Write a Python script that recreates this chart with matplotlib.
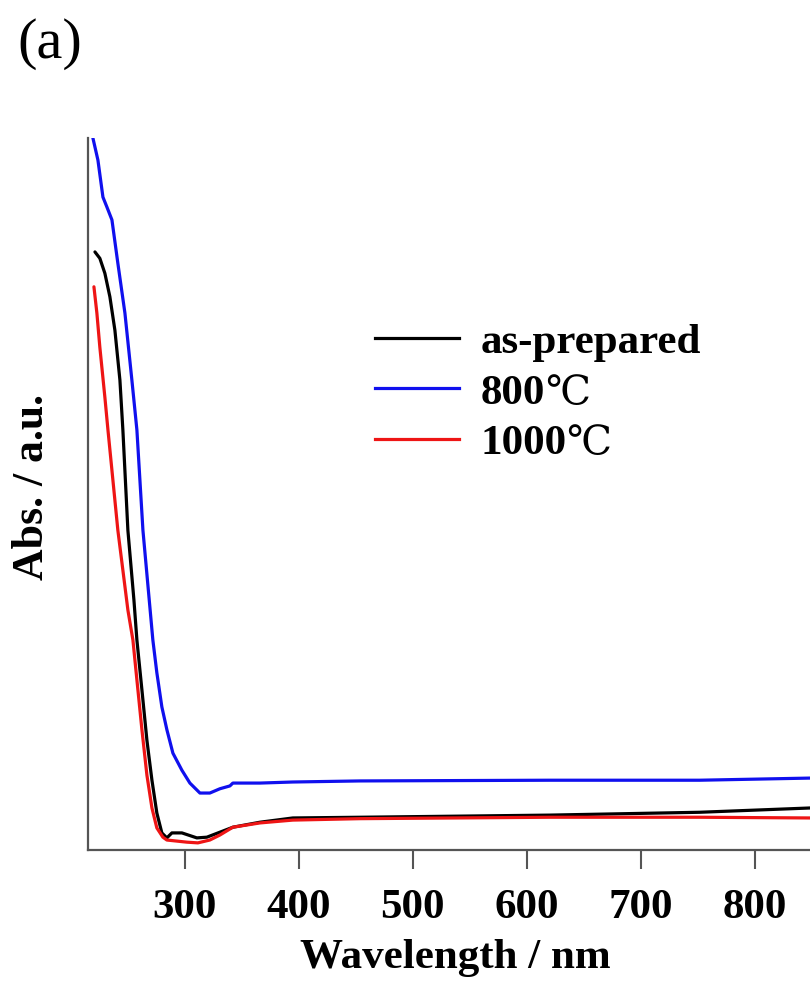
import matplotlib
matplotlib.use("Agg")
import matplotlib.pyplot as plt
from matplotlib.lines import Line2D

# UV-vis absorbance spectra (arbitrary units)
wl_asprep = [221.1, 225.4, 229.8, 234.2, 238.6, 243.0, 245.6, 250.0, 255.3, 257.9,
             262.3, 266.7, 271.1, 275.4, 279.8, 284.2, 288.6, 297.4, 310.5, 319.3,
             330.7, 342.1, 365.8, 394.7, 453.5, 620.1, 751.7, 848.2, 870.0]
abs_asprep = [0.840, 0.831, 0.810, 0.777, 0.730, 0.660, 0.590, 0.449, 0.351, 0.295,
              0.225, 0.154, 0.098, 0.052, 0.024, 0.017, 0.024, 0.024, 0.017, 0.018,
              0.025, 0.032, 0.039, 0.045, 0.046, 0.049, 0.053, 0.059, 0.060]

wl_800 = [219.3, 223.7, 228.1, 231.6, 236.0, 241.2, 247.4, 253.5, 257.9, 263.2,
          271.9, 275.4, 279.8, 284.2, 289.5, 297.4, 304.4, 313.2, 321.9, 330.7,
          339.5, 342.1, 365.8, 394.7, 453.5, 620.1, 751.7, 848.2, 870.0]
abs_800 = [1.000, 0.969, 0.917, 0.903, 0.885, 0.824, 0.754, 0.660, 0.590, 0.449,
           0.295, 0.249, 0.201, 0.169, 0.136, 0.112, 0.094, 0.080, 0.080, 0.086,
           0.090, 0.094, 0.094, 0.0955, 0.097, 0.098, 0.098, 0.101, 0.101]

wl_1000 = [220.2, 222.8, 225.4, 229.8, 232.5, 241.2, 250.0, 254.4, 257.9, 262.3,
           266.7, 271.1, 275.4, 280.7, 284.2, 301.8, 311.4, 321.9, 330.7, 342.1,
           365.8, 394.7, 453.5, 620.1, 751.7, 848.2, 870.0]
abs_1000 = [0.791, 0.754, 0.706, 0.636, 0.590, 0.449, 0.337, 0.295, 0.239, 0.169,
            0.105, 0.059, 0.031, 0.018, 0.014, 0.011, 0.010, 0.014, 0.021, 0.032,
            0.038, 0.042, 0.044, 0.046, 0.046, 0.045, 0.045]

series_labels = ["as-prepared", "800", "1000"]
series_suffix = ["", "\u2103", "\u2103"]
series_colors = ["black", "#1010ee", "#ee1515"]

xticks = [300, 400, 500, 600, 700, 800]

W, H = 810, 988
fig = plt.figure(figsize=(W / 100, H / 100), dpi=100)
ax = fig.add_axes([88 / W, (H - 850) / H, (822 - 88) / W, (850 - 138) / H])

serif = ["Liberation Serif", "DejaVu Serif"]
lw = 2.3
line_kw = dict(lw=lw, solid_joinstyle="round", solid_capstyle="round")
ax.plot(wl_asprep, abs_asprep, color=series_colors[0], **line_kw)
ax.plot(wl_800, abs_800, color=series_colors[1], **line_kw)
ax.plot(wl_1000, abs_1000, color=series_colors[2], **line_kw)

ax.set_xlim(215, 859)
ax.set_ylim(0, 1.0)

for s in ["top", "right"]:
    ax.spines[s].set_visible(False)
for s in ["left", "bottom"]:
    ax.spines[s].set_color("#555555")
    ax.spines[s].set_linewidth(1.6)

ax.set_yticks([])
ax.set_xticks(xticks)
ax.tick_params(axis="x", direction="out", length=14, width=1.5, color="#555555",
               pad=14)
for lab in ax.get_xticklabels():
    lab.set_fontfamily(serif)
    lab.set_fontweight("bold")
    lab.set_fontsize(31)

ax.set_xlabel("Wavelength / nm", fontfamily=serif, fontweight="bold", fontsize=31)
ax.xaxis.set_label_coords(0.5, -0.125)
ax.set_ylabel("Abs. / a.u.", fontfamily=serif, fontweight="bold", fontsize=31.5)
ax.yaxis.set_label_coords(-0.049, 0.51)

fig.text(17 / W, 1 - 44 / H, "(a)", fontfamily=serif, fontsize=42,
         ha="left", va="center")

handles = [Line2D([], [], color=c, lw=lw) for c in series_colors]
leg = ax.legend(handles, series_labels, loc="center left",
                bbox_to_anchor=(375 / W, 1 - 393 / H), bbox_transform=fig.transFigure,
                frameon=False, borderpad=0, borderaxespad=0, handlelength=1.95,
                handletextpad=0.5, labelspacing=0.26,
                prop={"family": serif, "weight": "bold", "size": 31})

fig.canvas.draw()
renderer = fig.canvas.get_renderer()
for txt, suffix in zip(leg.get_texts(), series_suffix):
    if not suffix:
        continue
    bb = txt.get_window_extent(renderer)
    fig.text(bb.x1 / fig.bbox.width, (bb.y0 + bb.y1) / 2 / fig.bbox.height, suffix,
             fontfamily=["DejaVu Serif"], fontweight="normal", fontsize=29,
             ha="left", va="center")

fig.savefig("out.png", dpi=100)
